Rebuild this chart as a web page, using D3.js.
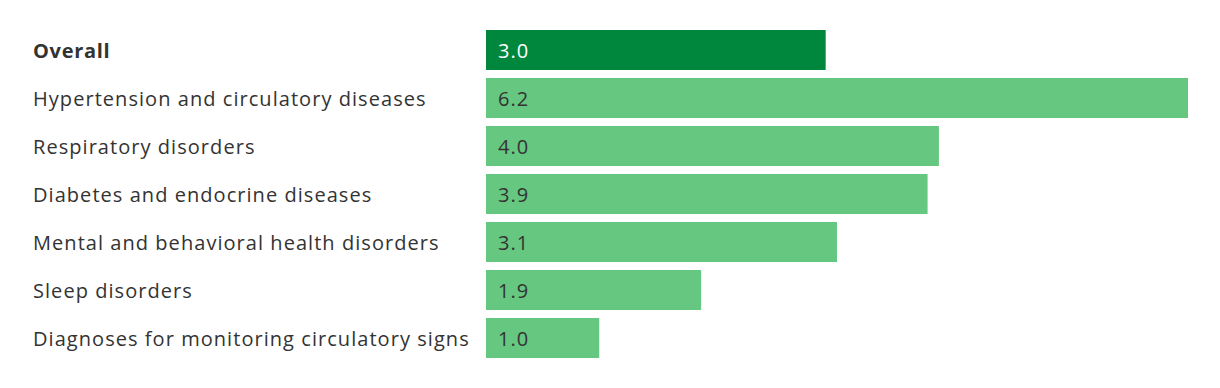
<!DOCTYPE html>
<html>
<head>
<meta charset="utf-8">
<script src="https://cdn.jsdelivr.net/npm/d3@7"></script>
<style>
  body { margin: 0; background: #fff; }
  svg { display: block; font-family: "Open Sans", Lato, sans-serif; }
</style>
</head>
<body>
<div class="container"></div>
<script>
var categories = [
	"Overall",
	"Hypertension and circulatory diseases",
	"Respiratory disorders",
	"Diabetes and endocrine diseases",
	"Mental and behavioral health disorders",
	"Sleep disorders",
	"Diagnoses for monitoring circulatory signs"
];
var values = [3.0, 6.2, 4.0, 3.9, 3.1, 1.9, 1.0];

var iWidth = 1220, iHeight = 388;
var barLeft = 486, barRight = 1188;

var svg = d3.select(".container")
	.append("svg")
	.attr("width", iWidth)
	.attr("height", iHeight);

var x = d3.scaleLinear()
	.domain([0, d3.max(values)])
	.range([barLeft, barRight]);

// step 48px, bars 40px
var y = d3.scaleBand()
	.domain(categories)
	.range([30, 358])
	.paddingInner(8 / 48)
	.paddingOuter(0);

var rows = svg.selectAll("g.row")
	.data(categories)
	.enter()
	.append("g")
	.attr("class", "row")
	.attr("transform", function(d) {
		return "translate(0," + y(d) + ")";
	});

// category labels
rows.append("text")
	.attr("x", 33)
	.attr("y", y.bandwidth() / 2)
	.attr("dy", "0.38em")
	.style("font-size", "20px")
	.style("letter-spacing", function(d, i) { return i === 0 ? "0.7px" : "1.05px"; })
	.style("font-weight", function(d, i) { return i === 0 ? "700" : "400"; })
	.style("fill", "#333")
	.text(function(d) { return d; });

// bars
rows.append("rect")
	.attr("x", x(0))
	.attr("y", 0)
	.attr("width", function(d, i) { return x(values[i]) - x(0); })
	.attr("height", y.bandwidth())
	.style("fill", function(d, i) { return i === 0 ? "#00873e" : "#66c780"; });

// value labels
rows.append("text")
	.attr("x", x(0) + 12)
	.attr("y", y.bandwidth() / 2)
	.attr("dy", "0.38em")
	.style("font-size", "20px")
	.style("letter-spacing", "1px")
	.style("fill", function(d, i) { return i === 0 ? "#fff" : "#333"; })
	.text(function(d, i) { return d3.format(".1f")(values[i]); });
</script>
</body>
</html>
